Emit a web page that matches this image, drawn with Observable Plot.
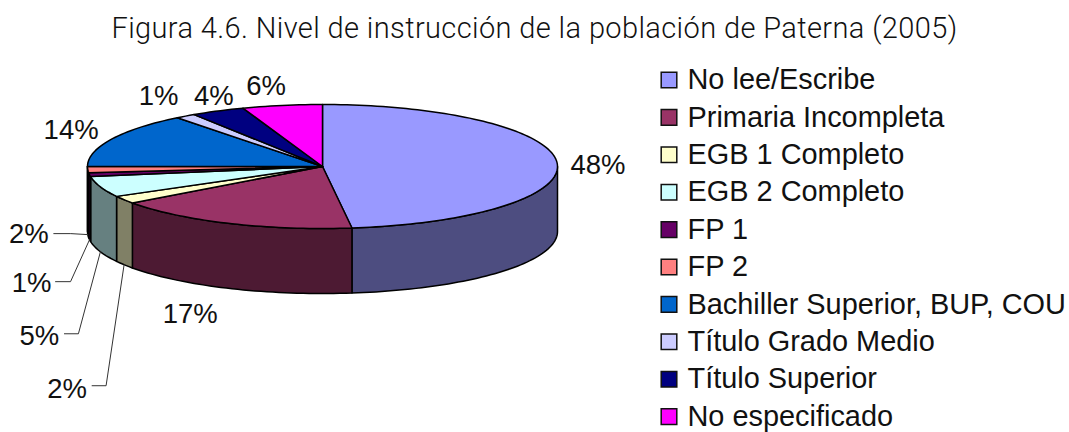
<!DOCTYPE html>
<html lang="es">
<head>
<meta charset="utf-8">
<script src="https://cdn.jsdelivr.net/npm/d3@7"></script>
<script src="https://cdn.jsdelivr.net/npm/@observablehq/plot@0.6"></script>
<style>
  html, body { margin: 0; padding: 0; background: #fff; overflow: hidden; }
  #title { height: 50px; width: 1069px; overflow: hidden; text-align: center;
    font-family: Roboto, sans-serif; font-size: 29px; line-height: 56px; color: #111;
    font-weight: 300; letter-spacing: 0.38px; white-space: nowrap; }
  svg { display: block; }
</style>
</head>
<body>
<div id="title">Figura 4.6. Nivel de instrucción de la población de Paterna (2005)</div>
<div id="chart"></div>
<script>
const categories = ["No lee/Escribe", "Primaria Incompleta", "EGB 1 Completo", "EGB 2 Completo", "FP 1", "FP 2",
  "Bachiller Superior, BUP, COU", "Título Grado Medio", "Título Superior", "No especificado"];
const shares = [48, 17, 2, 5.4, 1, 1.6, 14.4, 1.4, 3.7, 5.5];
const percentLabels = ["48%", "17%", "2%", "5%", "1%", "2%", "14%", "1%", "4%", "6%"];
const topColors = ["#9999FF", "#993366", "#FFFFCC", "#CCFFFF", "#660066", "#FF8080", "#0066CC", "#CCCCFF", "#000080", "#FF00FF"];
const sideColors = ["#4D4D80", "#4D1A33", "#808066", "#668080", "#330033", "#804040", "#003366", "#666680", "#000040", "#800080"];

// Layout (pixels): pie geometry, label offsets from the slice's rim, leader elbows
const W = 1069, H = 382, TOP = 50;
const CX = 322, CY = 166, RX = 235, RY = 62, DEPTH = 65;
const labelOffsets = [[41, 3], [-39, 91], [-57, 124], [-61, 84], [-58, 44], [-59, 0], [-40, -9], [-27, -20], [-4, -15], [-16, -19]];
const leaderElbows = {2: [[-18, 121], [-32, 121]], 3: [[-22, 82], [-36, 82]], 4: [[-19, 42], [-34, 42]], 5: [[-17, -1], [-34, -1]]};
const LEGEND_SWATCH_X = 668.5, LEGEND_TEXT_X = 687, LEGEND_Y0 = 79.5, LEGEND_STEP = 37.4;

const ux = px => (px - CX) / RX;
const uy = py => (py - CY) / RX;
const tilt = RY / RX, depth = DEPTH / RX;
const total = d3.sum(shares);
const rim = (deg, dz = 0) => {
  const a = deg * Math.PI / 180;
  return {x: Math.sin(a), y: -Math.cos(a) * tilt + dz};
};
const arcDegrees = (a0, a1) => {
  const n = Math.max(2, Math.ceil(Math.abs(a1 - a0) / 1.5));
  return d3.range(n + 1).map(i => a0 + (a1 - a0) * i / n);
};

let acc = 0;
const slices = shares.map((v, i) => {
  const a0 = acc / total * 360; acc += v;
  return {i, a0, a1: acc / total * 360, mid: (a0 + acc / total * 360) / 2};
});

const topPts = slices.flatMap(s => {
  const ring = [{x: 0, y: 0}, ...arcDegrees(s.a0, s.a1).map(d => rim(d)), {x: 0, y: 0}];
  return ring.map(p => ({...p, id: s.i, c: topColors[s.i]}));
});
const sidePts = slices.filter(s => s.a1 > 90 && s.a0 < 270).flatMap(s => {
  const a0 = Math.max(s.a0, 90), a1 = Math.min(s.a1, 270);
  const arc = arcDegrees(a0, a1);
  const ring = [...arc.map(d => rim(d)), ...arc.slice().reverse().map(d => rim(d, depth)), rim(a0)];
  return ring.map(p => ({...p, id: s.i, c: sideColors[s.i]}));
});

const labels = slices.map(s => {
  const hasLeader = s.i in leaderElbows;
  const base = rim(s.mid, hasLeader ? depth : 0);
  const [dx, dy] = labelOffsets[s.i];
  return {x: base.x + dx / RX, y: base.y + dy / RX, t: percentLabels[s.i]};
});
const leaderPts = slices.filter(s => s.i in leaderElbows).flatMap(s => {
  const base = rim(s.mid, depth);
  return [base, ...leaderElbows[s.i].map(([dx, dy]) => ({x: base.x + dx / RX, y: base.y + dy / RX}))]
    .map(p => ({...p, id: s.i}));
});
const legendRows = categories.map((name, i) => ({name, c: topColors[i], y: uy(LEGEND_Y0 + i * LEGEND_STEP)}));

const plot = Plot.plot({
  width: W, height: H, margin: 0,
  x: {domain: [ux(0), ux(W)], range: [0, W], axis: null},
  y: {domain: [uy(TOP), uy(TOP + H)], range: [0, H], axis: null},
  color: {type: "identity"},
  style: {background: "#fff", fontFamily: "'Liberation Sans', Arial, sans-serif"},
  marks: [
    Plot.line(sidePts, {x: "x", y: "y", z: "id", fill: "c", stroke: "#000", strokeWidth: 1.5, curve: "linear"}),
    Plot.line(topPts, {x: "x", y: "y", z: "id", fill: "c", stroke: "#000", strokeWidth: 1.5, curve: "linear"}),
    Plot.line(leaderPts, {x: "x", y: "y", z: "id", stroke: "#333", strokeWidth: 1, curve: "linear"}),
    Plot.text(labels, {x: "x", y: "y", text: "t", fontSize: 27.5, fill: "#111", textAnchor: "middle", lineAnchor: "middle"}),
    Plot.dot(legendRows, {x: () => ux(LEGEND_SWATCH_X), y: "y", symbol: "square", r: 8.8, fill: "c", stroke: "#111", strokeWidth: 1.5}),
    Plot.text(legendRows, {x: () => ux(LEGEND_TEXT_X), y: "y", text: "name", fontSize: 28.9, fill: "#111", textAnchor: "start", lineAnchor: "middle"})
  ]
});
document.getElementById("chart").append(plot);
</script>
</body>
</html>
